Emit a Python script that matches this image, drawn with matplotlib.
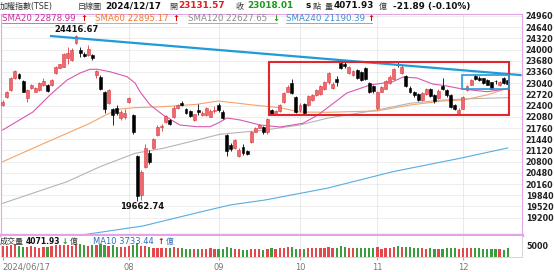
import matplotlib
matplotlib.use("Agg")
import matplotlib.pyplot as plt
from matplotlib.lines import Line2D
from matplotlib.patches import Rectangle
import numpy as np

plt.rcParams["font.family"] = ["DejaVu Sans", "Noto Sans CJK TC"]

W, H = 554, 272

# ---- daily candles, trading days 2024/06/17 .. 2024/12/17 (TAIEX) ----
opens = [
    22417, 22650, 22850, 23190, 23300, 23100, 22630, 22900, 22800, 22850,
    22990, 22990, 22990, 23320, 23480, 23510, 23750, 23703, 24200, 24000,
    23880, 23850, 23850, 23280, 23230, 22790, 22470, 22300, 22330, 22040,
    22060, 22494, 22130, 20960, 19846, 20650, 21040, 21180, 21560, 21800,
    21930, 21990, 22080, 22320, 22480, 22300, 22240, 21990, 22260, 22130,
    22130, 22080, 22240, 22420, 22230, 21560, 21270, 21180, 20950, 21230,
    21090, 21360, 21660, 21770, 21800, 21650, 22270, 22150, 22240, 22500,
    22800, 23050, 22640, 22260, 22440, 22420, 22570, 22700, 22720, 22860,
    23060, 22900, 23160, 23620, 23580, 23330, 23270, 23420, 23370, 23470,
    23040, 22950, 22330, 22800, 22880, 23040, 23150, 23600, 23330, 23250,
    22900, 22800, 22730, 22570, 22720, 22860, 22700, 22620, 22960, 22850,
    22700, 22420, 22200, 22300, 22840, 23000, 23250, 23200, 23180, 23130,
    23060, 23110, 22980, 23180, 23131.57,
]
highs = [
    22560, 22830, 23230, 23420, 23330, 23130, 22880, 23020, 22940, 23080,
    23190, 23010, 23160, 23540, 23600, 23900, 24083, 24050, 24416.67, 24060,
    23920, 24130, 23880, 23430, 23270, 22810, 22880, 22330, 22420, 22260,
    22290, 22650, 22160, 20990, 20550, 21300, 21130, 21480, 21840, 21870,
    22130, 22010, 22380, 22450, 22540, 22320, 22270, 22170, 22450, 22250,
    22360, 22290, 22380, 22460, 22260, 21600, 21330, 21450, 21180, 21300,
    21120, 21680, 21790, 21880, 21830, 22050, 22300, 22280, 22450, 22800,
    23000, 23150, 22660, 22480, 22460, 22700, 22740, 22880, 22990, 23100,
    23370, 23060, 23250, 23660, 23640, 23540, 23410, 23450, 23400, 23500,
    23070, 23000, 22830, 22970, 23120, 23260, 23480, 23650, 23560, 23280,
    22950, 22830, 22760, 22790, 22910, 22900, 22720, 22860, 23180, 22880,
    22720, 22450, 22320, 22680, 22980, 23170, 23290, 23240, 23200, 23160,
    23080, 23140, 23100, 23230, 23180,
]
lows = [
    22390, 22620, 22830, 23170, 23160, 22780, 22494, 22880, 22780, 22830,
    22970, 22800, 22970, 23300, 23460, 23490, 23580, 23680, 24150, 23780,
    23780, 23820, 23700, 23200, 22840, 22200, 22440, 21850, 22130, 21990,
    22030, 22470, 21600, 19662.74, 19700, 20620, 20740, 21150, 21540, 21680,
    21900, 21850, 22050, 22300, 22380, 22150, 22080, 21970, 22140, 22110,
    22100, 22060, 22200, 22230, 22030, 20950, 21100, 21150, 20920, 21000,
    20980, 21340, 21640, 21750, 21600, 21600, 22130, 22120, 22220, 22480,
    22780, 22720, 22180, 22220, 22140, 22400, 22540, 22680, 22700, 22840,
    23030, 22870, 22960, 23440, 23480, 23300, 23240, 23150, 23100, 23120,
    22750, 22760, 22280, 22780, 22860, 23020, 23120, 23500, 23290, 22920,
    22760, 22650, 22520, 22540, 22690, 22650, 22480, 22590, 22840, 22650,
    22330, 22260, 22150, 22290, 22820, 22980, 23130, 23100, 23010, 22980,
    22870, 23020, 22960, 23010, 22990,
]
closes = [
    22504, 22800, 23200, 23390, 23190, 22790, 22840, 22990, 22910, 23040,
    23100, 22830, 23130, 23510, 23580, 23865, 23895, 23990, 24390, 23916,
    23830, 24020, 23760, 23400, 22870, 22300, 22850, 22119, 22180, 22230,
    22199, 22626, 21638, 19831, 20510, 21200, 20800, 21460, 21800, 21820,
    22100, 21870, 22340, 22420, 22420, 22180, 22110, 22150, 22230, 22200,
    22340, 22250, 22268, 22260, 22050, 21092, 21150, 21420, 21130, 21040,
    21010, 21660, 21760, 21850, 21640, 22020, 22159, 22250, 22420, 22760,
    22930, 22750, 22224, 22420, 22180, 22660, 22700, 22850, 22950, 23060,
    23330, 23030, 23070, 23487, 23520, 23500, 23380, 23180, 23130, 23150,
    22780, 22820, 22800, 22940, 23090, 23230, 23450, 23555, 23510, 22950,
    22800, 22700, 22560, 22760, 22880, 22680, 22520, 22810, 22870, 22700,
    22360, 22298, 22262, 22658, 22950, 23130, 23160, 23130, 23040, 23000,
    22880, 23090, 23060, 23040, 23018.01,
]
volumes = [
    4800, 5200, 5600, 6100, 5000, 4700, 4400, 4900, 4500, 4300,
    4600, 4700, 5100, 5500, 5300, 5600, 5400, 5200, 5900, 5700,
    5300, 5100, 5600, 5400, 5800, 5600, 4900, 5500, 4600, 4500,
    4700, 5000, 5600, 6300, 5200, 4900, 4500, 4200, 3900, 4100,
    4300, 4000, 4400, 3900, 4100, 3800, 3700, 3600, 3500, 3600,
    3700, 4000, 3500, 3600, 3700, 4500, 3900, 3700, 3500, 3400,
    3300, 3800, 3600, 3500, 3400, 3700, 4100, 3700, 3900, 4200,
    4600, 4400, 3800, 3700, 3600, 3900, 4000, 4100, 4300, 4200,
    4400, 4000, 3900, 5100, 4600, 4200, 4100, 4300, 4000, 4100,
    4200, 4300, 4400, 3800, 4000, 4300, 4700, 5000, 4600, 4500,
    4500, 4300, 4000, 3900, 3800, 3900, 3700, 3800, 3700, 3900,
    4200, 3900, 3800, 4100, 4000, 4200, 4100, 3900, 3700, 3600,
    3500, 3600, 3800, 3400, 4071.93,
]

# moving averages (day index, value)
sma20_x = [0, 7.4, 11.6, 15.8, 19, 21.4, 23.2, 26.3, 30.5, 32.5, 33.7, 36.2, 39.4,
           43.5, 47.7, 50.9, 52.9, 55.1, 58.3, 63.2, 68.1, 73.7, 77.4, 84.5, 90.2,
           95.8, 98.3, 101.7, 105.6, 109.1, 112.8, 118.9, 124]
sma20_y = [21703, 22217, 22703, 23131, 23331, 23437, 23437, 23369, 23226, 23046, 22797,
           22417, 22131, 21846, 21797, 21797, 21903, 22046, 21989, 21846, 21789, 21894,
           22131, 22760, 22989, 23083, 23217, 23189, 23017, 22960, 22874, 22797, 22878.99]
sma60_x = [0, 7.4, 15.8, 21.4, 25.6, 28.8, 32.5, 39.4, 47.7, 52.9, 55.8, 61.5, 68.1,
           73, 79.6, 91.9, 100, 108.1, 113, 118.9, 124]
sma60_y = [20797, 21180, 21609, 21894, 22152, 22303, 22340, 22369, 22437, 22532, 22494,
           22417, 22340, 22217, 22209, 22246, 22417, 22532, 22560, 22703, 22895.17]
sma120_x = [0, 15.8, 23.9, 32.5, 39.4, 47.7, 53.3, 60, 64.4, 73, 79.6, 91.9, 100,
            108.1, 113, 124]
sma120_y = [19608, 20226, 20655, 21037, 21180, 21417, 21580, 21654, 21703, 21846, 22037,
            22274, 22466, 22560, 22589, 22627.65]
sma240_x = [20.2, 34.4, 48.5, 55.8, 64.4, 79.6, 95.8, 112.3, 124]
sma240_y = [18717, 18960, 19360, 19560, 19703, 20038, 20512, 20895, 21190.39]

# drawn markup: falling trend line and the two boxes
trend_x = [11.6, 127.4]
trend_y = [24390, 23270]
red_box_x = [65.4, 124.4]
red_box_y = [22132, 23655]
blue_box_x = [112.8, 124.4]
blue_box_y = [22874, 23274]

price_ticks = list(range(24960, 19199, -320))
month_ticks = [0, 31, 53, 73, 92, 113]
month_labels = ["2024/06/17", "08", "09", "10", "11", "12"]

RED_FILL = "#ec6a6e"
RED_EDGE = "#d9393f"
PINK = "#e4a3e4"

fig = plt.figure(figsize=(W / 100, H / 100), dpi=100)


def px_box(x0, y0, x1, y1):
    return [x0 / W, 1 - y1 / H, (x1 - x0) / W, (y1 - y0) / H]


def ftext(x, y, s, **kw):
    kw.setdefault("va", "center")
    return fig.text(x / W, 1 - y / H, s, **kw)


ax = fig.add_axes(px_box(1, 14, 521.7, 235))
axv = fig.add_axes(px_box(1, 236, 521.7, 257), sharex=ax)

idx = np.arange(len(closes))
o, hi, lo, c = (np.array(v, dtype=float) for v in (opens, highs, lows, closes))
up = c >= o

# grid
for p in price_ticks:
    ax.axhline(p, color="#ebebeb", lw=0.6, zorder=0)
for m in month_ticks[1:]:
    ax.axvline(m, color="#e6e6e6", lw=0.6, zorder=0)
    axv.axvline(m, color="#e6e6e6", lw=0.6, zorder=0)

# moving averages
ax.plot(sma240_x, sma240_y, color="#58ade0", lw=0.8, zorder=2)
ax.plot(sma120_x, sma120_y, color="#b5b5b5", lw=0.8, zorder=2)
ax.plot(sma60_x, sma60_y, color="#f2a46c", lw=0.8, zorder=2)
ax.plot(sma20_x, sma20_y, color="#d758b0", lw=0.8, zorder=2)

# candles
edge = np.where(up, RED_EDGE, "black")
ax.vlines(idx, lo, hi, colors=edge, lw=0.6, zorder=3)
body_h = np.maximum(np.abs(c - o), 12)
ax.bar(idx, body_h, bottom=np.minimum(o, c), width=0.72,
       color=np.where(up, RED_FILL, "black"), edgecolor=edge, lw=0.4, zorder=4)

# trend line and boxes
ax.plot(trend_x, trend_y, color="#1f9bd6", lw=1.6, zorder=5, solid_capstyle="butt")
ax.add_patch(Rectangle((red_box_x[0], red_box_y[0]), red_box_x[1] - red_box_x[0],
                       red_box_y[1] - red_box_y[0], fill=False, ec="#e2262d", lw=1.5, zorder=6))
ax.add_patch(Rectangle((blue_box_x[0], blue_box_y[0]), blue_box_x[1] - blue_box_x[0],
                       blue_box_y[1] - blue_box_y[0], fill=False, ec="#2a9ad6", lw=1.2, zorder=6))

# high / low marks
i_hi = int(np.argmax(hi))
i_lo = int(np.argmin(lo))
ax.annotate(f"{hi[i_hi]:.2f}", (i_hi, hi[i_hi]), xytext=(0, 0.5), textcoords="offset points",
            ha="center", va="bottom", fontsize=6, fontweight="bold", color="#111")
ax.annotate(f"{lo[i_lo]:.2f}", (i_lo, lo[i_lo]), xytext=(3.5, -0.5), textcoords="offset points",
            ha="center", va="top", fontsize=6, fontweight="bold", color="#111")

ax.set_xlim(-0.42, 127.43)
ax.set_ylim(18703, 25017)
ax.set_yticks(price_ticks)
ax.yaxis.tick_right()
ax.tick_params(axis="y", length=0, pad=3, labelsize=5.8, labelcolor="#222")
for t in ax.get_yticklabels():
    t.set_fontweight("bold")
ax.tick_params(axis="x", bottom=False, labelbottom=False)
for s in ax.spines.values():
    s.set_color(PINK)
    s.set_linewidth(0.8)
ax.spines["bottom"].set_linewidth(2.4)

# volume panel
axv.bar(idx, volumes, width=0.55, color=np.where(up, "#e2484c", "#3a9e3e"), zorder=3)
axv.set_ylim(0, 9545)
axv.set_yticks([5000])
axv.yaxis.tick_right()
axv.tick_params(axis="y", length=0, pad=3, labelsize=5.8, labelcolor="#222")
for t in axv.get_yticklabels():
    t.set_fontweight("bold")
axv.set_xticks(month_ticks)
axv.set_xticklabels(month_labels)
axv.tick_params(axis="x", length=2.5, width=0.6, color="#999", pad=1.5,
                labelsize=6, labelcolor="#777")
axv.get_xticklabels()[0].set_horizontalalignment("left")
for s in axv.spines.values():
    s.set_color("#cfcfcf")
    s.set_linewidth(0.6)
axv.spines["top"].set_visible(False)

# header line
ftext(0, 6, "加權指數(TSE)", fontsize=5.8, color="#333")
ftext(78, 6, "日線圖", fontsize=5.8, color="#333")
ftext(105, 6, "2024/12/17", fontsize=6.4, fontweight="bold", color="#111")
ftext(169, 6, "開", fontsize=5.8, color="#333")
ftext(178, 6, "23131.57", fontsize=6.4, fontweight="bold", color="#e01e1e")
ftext(235, 6, "收", fontsize=5.8, color="#333")
ftext(247, 6, "23018.01", fontsize=6.4, fontweight="bold", color="#1c9a1c")
ftext(306, 6, "s", fontsize=6.4, fontweight="bold", color="#111")
ftext(313, 6, "點", fontsize=5.8, color="#333")
ftext(325, 6, "量", fontsize=5.8, color="#333")
ftext(334, 6, "4071.93", fontsize=6.4, fontweight="bold", color="#111")
ftext(379, 6, "億", fontsize=5.8, color="#333")
ftext(393, 6, "-21.89 (-0.10%)", fontsize=6.4, fontweight="bold", color="#111")

# moving-average legend
legend = [
    (2, 80, "SMA20 22878.99", "#c8309c", "↑", "#e00000"),
    (95, 172, "SMA60 22895.17", "#ee7a34", "↑", "#e00000"),
    (188, 272, "SMA120 22627.65", "#8a8a8a", "↓", "#1f9a1f"),
    (286, 367, "SMA240 21190.39", "#3b8fd2", "↑", "#e00000"),
]
for x0, xa, label, col, arrow, acol in legend:
    ftext(x0, 18.5, label, fontsize=6.2, color=col)
    ftext(xa, 18.5, arrow, fontsize=6.0, fontweight="bold", color=acol)
    fig.add_artist(Line2D([x0 / W, (xa + 5) / W], [1 - 22.5 / H] * 2, color=col, lw=0.5))

# volume legend
ftext(0, 241, "成交量", fontsize=5.8, color="#333")
ftext(26, 241, "4071.93", fontsize=5.5, fontweight="bold", color="#111")
ftext(62, 241, "↓", fontsize=5.5, fontweight="bold", color="#1f9a1f")
ftext(69.5, 241, "億", fontsize=5.6, color="#333")
ftext(93, 241, "MA10 3733.44", fontsize=6.0, color="#2f6fc0")
ftext(157.5, 241, "↑", fontsize=5.6, fontweight="bold", color="#e00000")
ftext(165.5, 241, "億", fontsize=5.6, color="#2f6fc0")

fig.savefig("out.png", dpi=100)
